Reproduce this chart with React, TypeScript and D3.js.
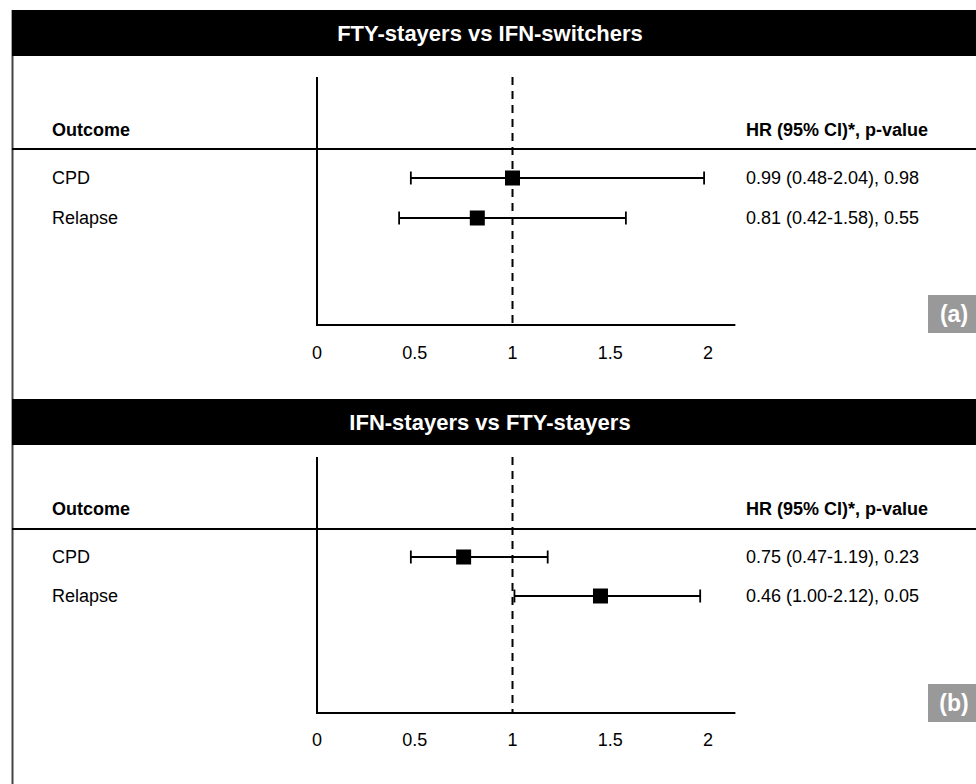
import React, { useRef, useEffect } from 'react';
import * as d3 from 'd3';

// rows and values
const outcomes = ['CPD', 'Relapse'];
const panelTitles = ['FTY-stayers vs IFN-switchers', 'IFN-stayers vs FTY-stayers'];
const panelTags = ['(a)', '(b)'];

const hrA = [1.0, 0.82];
const lowA = [0.48, 0.42];
const highA = [1.98, 1.58];
const textA = ['0.99 (0.48-2.04), 0.98', '0.81 (0.42-1.58), 0.55'];

const hrB = [0.75, 1.45];
const lowB = [0.48, 1.01];
const highB = [1.18, 1.96];
const textB = ['0.75 (0.47-1.19), 0.23', '0.46 (1.00-2.12), 0.05'];

const xTicks = [0, 0.5, 1, 1.5, 2];

const W = 976, H = 784;
const FONT = '"Liberation Sans", Arial, Helvetica, sans-serif';

const App = () => {
    const ref = useRef(null);

    useEffect(() => {
        if (ref.current) draw(ref.current);
    }, []);

    return (
        <div style={{ position: 'absolute', left: 0, top: 0 }}>
            <svg ref={ref} width={W} height={H}></svg>
        </div>
    );

    function draw(node) {
        const svg = d3.select(node);
        svg.selectAll('*').remove();
        svg.style('font-family', FONT);

        svg.append('rect').attr('width', W).attr('height', H).attr('fill', '#fff');

        // left frame line
        svg.append('line')
            .attr('x1', 12.5).attr('x2', 12.5)
            .attr('y1', 10).attr('y2', H)
            .attr('stroke', '#444').attr('stroke-width', 2);

        const x = d3.scaleLinear().domain([0, 2]).range([317, 708]);

        const panels = [
            { hr: hrA, low: lowA, high: highA, text: textA, top: 10, headY: 130, hline: 149, rows: [178, 218], axisTop: 77, axisY: 325, tickY: 353, tagTop: 295 },
            { hr: hrB, low: lowB, high: highB, text: textB, top: 399, headY: 509, hline: 529, rows: [557, 596], axisTop: 457, axisY: 713, tickY: 740, tagTop: 684 }
        ];

        panels.forEach((p, pi) => {
            const g = svg.append('g');

            g.append('rect')
                .attr('x', 12).attr('y', p.top)
                .attr('width', W - 12).attr('height', 46)
                .attr('fill', '#000');

            g.append('text')
                .attr('x', 490).attr('y', p.top + 23)
                .attr('dy', '0.35em')
                .attr('text-anchor', 'middle')
                .attr('fill', '#fff')
                .style('font-size', '22px')
                .style('font-weight', 'bold')
                .text(panelTitles[pi]);

            g.append('text')
                .attr('x', 52).attr('y', p.headY)
                .attr('dy', '0.35em')
                .style('font-size', '18px')
                .style('font-weight', 'bold')
                .text('Outcome');

            g.append('text')
                .attr('x', 746).attr('y', p.headY)
                .attr('dy', '0.35em')
                .style('font-size', '18px')
                .style('font-weight', 'bold')
                .text('HR (95% CI)*, p-value');

            g.append('line')
                .attr('x1', 12).attr('x2', W)
                .attr('y1', p.hline).attr('y2', p.hline)
                .attr('stroke', '#000').attr('stroke-width', 2);

            // axes
            g.append('line')
                .attr('x1', x(0)).attr('x2', x(0))
                .attr('y1', p.axisTop).attr('y2', p.axisY + 1)
                .attr('stroke', '#000').attr('stroke-width', 2);

            g.append('line')
                .attr('x1', x(0) - 1).attr('x2', x(2.14))
                .attr('y1', p.axisY).attr('y2', p.axisY)
                .attr('stroke', '#000').attr('stroke-width', 2);

            g.append('line')
                .attr('x1', x(1)).attr('x2', x(1))
                .attr('y1', p.axisTop).attr('y2', p.axisY)
                .attr('stroke', '#000').attr('stroke-width', 2)
                .attr('stroke-dasharray', '8,6');

            g.selectAll('.tick-label')
                .data(xTicks)
                .enter().append('text')
                .attr('class', 'tick-label')
                .attr('x', d => x(d))
                .attr('y', p.tickY)
                .attr('dy', '0.35em')
                .attr('text-anchor', 'middle')
                .style('font-size', '18px')
                .text(d => d);

            const y = d3.scalePoint().domain(outcomes).range(p.rows);

            const rows = g.selectAll('.row')
                .data(outcomes)
                .enter().append('g')
                .attr('class', 'row')
                .attr('transform', d => 'translate(0,' + y(d) + ')');

            rows.append('text')
                .attr('x', 52)
                .attr('dy', '0.35em')
                .style('font-size', '18px')
                .text(d => d);

            rows.append('text')
                .attr('x', 746)
                .attr('dy', '0.35em')
                .style('font-size', '18px')
                .text((d, i) => p.text[i]);

            rows.append('line')
                .attr('x1', (d, i) => x(p.low[i]))
                .attr('x2', (d, i) => x(p.high[i]))
                .attr('stroke', '#000').attr('stroke-width', 1.8);

            rows.append('line')
                .attr('x1', (d, i) => x(p.low[i]))
                .attr('x2', (d, i) => x(p.low[i]))
                .attr('y1', -6.5).attr('y2', 6.5)
                .attr('stroke', '#000').attr('stroke-width', 1.8);

            rows.append('line')
                .attr('x1', (d, i) => x(p.high[i]))
                .attr('x2', (d, i) => x(p.high[i]))
                .attr('y1', -6.5).attr('y2', 6.5)
                .attr('stroke', '#000').attr('stroke-width', 1.8);

            rows.append('rect')
                .attr('x', (d, i) => x(p.hr[i]) - 7.5)
                .attr('y', -7.5)
                .attr('width', 15).attr('height', 15)
                .attr('fill', '#000');

            // panel tag
            g.append('rect')
                .attr('x', 928).attr('y', p.tagTop)
                .attr('width', W - 928).attr('height', 38)
                .attr('fill', '#999');

            g.append('text')
                .attr('x', 954).attr('y', p.tagTop + 19)
                .attr('dy', '0.35em')
                .attr('text-anchor', 'middle')
                .attr('fill', '#fff')
                .style('font-size', '23px')
                .style('font-weight', 'bold')
                .text(panelTags[pi]);
        });
    }
};

export default App;
